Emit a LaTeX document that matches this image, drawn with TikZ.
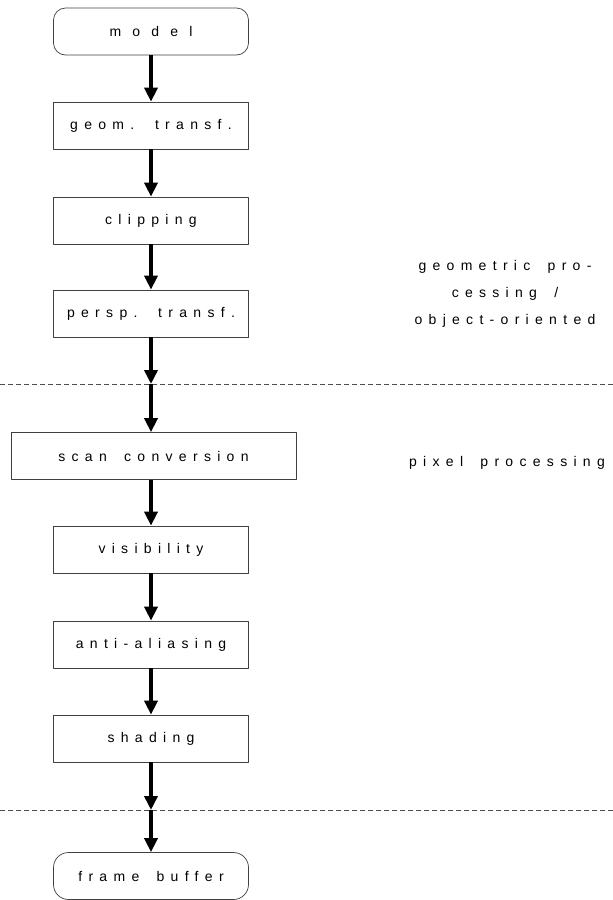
\documentclass[tikz,border=0pt]{standalone}
\usepackage{fontspec}
\newfontfamily\spaced{Liberation Sans}[LetterSpace=45,WordSpace=1.7]
\newfontfamily\wider{Liberation Sans}[LetterSpace=80]
\usetikzlibrary{arrows.meta}
\begin{document}
\begin{tikzpicture}[x=1pt,y=-1pt,line join=round,font=\spaced\fontsize{14}{16}\selectfont]
\tikzset{
box/.style={draw=black!75,line width=0.7pt,minimum width=195pt,minimum height=47pt,inner sep=0pt},
term/.style={box,rounded corners=12pt},
flow/.style={-{Triangle[width=13pt,length=14pt]},line width=3.6pt},
cut/.style={black!70,line width=0.6pt,dash pattern=on 5pt off 3pt},
note/.style={align=center,font=\spaced\fontsize{14}{27}\selectfont}
}
\useasboundingbox (0,0) rectangle (613,900);
\def\xa{151}
\def\ya{384}
\def\yb{810}
%
\path
(\xa,31.5) node[term,font=\wider\fontsize{14}{16}\selectfont] (model) {model}
(\xa,125.5) node[box] (geom) {geom. transf.}
(\xa,220.5) node[box] (clip) {clipping}
(\xa,313.5) node[box] (persp) {persp. transf.}
(\xa,\ya) coordinate (cutA)
(153.5,456) node[box,minimum width=285pt] (scan) {scan conversion}
(\xa,549.5) node[box] (vis) {visibility}
(\xa,644.5) node[box] (anti) {anti-aliasing}
(\xa,738.5) node[box] (shade) {shading}
(\xa,\yb) coordinate (cutB)
(\xa,876) node[term,rounded corners=15pt] (frame) {frame buffer}
;
%
\path (505,294) node[note] (geomnote) {geometric pro-\\cessing /\\object-oriented};
\path (507,463) node[note] (pixnote) {pixel processing};
%
\draw[cut] (0,\ya)--(613,\ya);
\draw[cut] (0,\yb)--(613,\yb);
%
\draw[flow] (model)--(geom);
\draw[flow] (geom)--(clip);
\draw[flow] (clip)--(persp);
\draw[flow] (persp)--(cutA);
\draw[flow] (cutA)--(scan.north -| cutA);
\draw[flow] (scan.south -| cutA)--(vis);
\draw[flow] (vis)--(anti);
\draw[flow] (anti)--(shade);
\draw[flow] (shade)--(cutB);
\draw[flow] (cutB)--(frame);
\end{tikzpicture}
\end{document}
